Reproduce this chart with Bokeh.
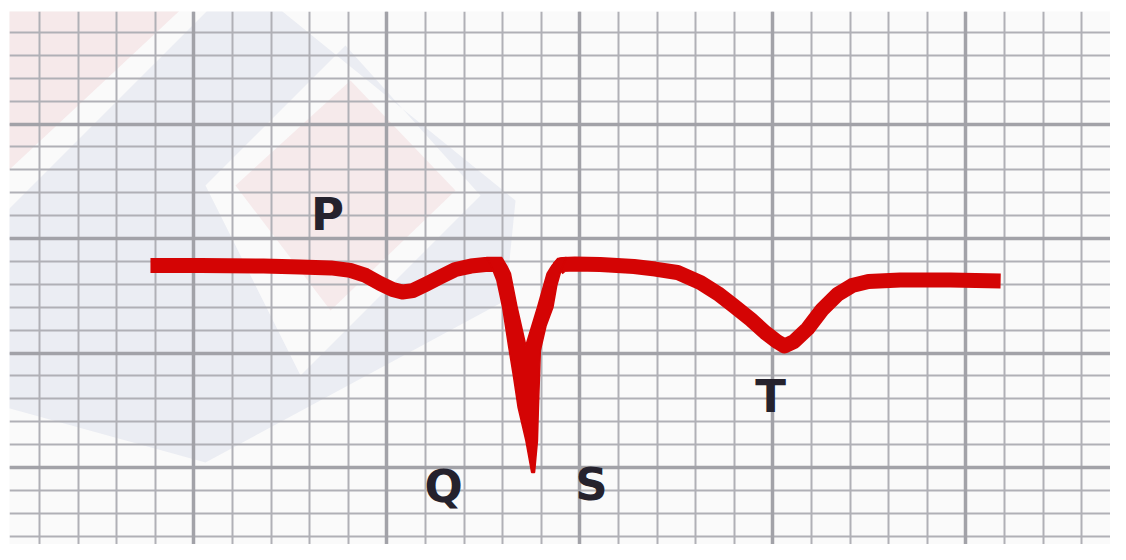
from bokeh.plotting import figure
from bokeh.models import Grid, FixedTicker, Range1d, ColumnDataSource
from bokeh.core.properties import value
from bokeh.embed import file_html
from bokeh.resources import INLINE

# ---- ECG trace (time in s, amplitude in mV) ----
pre_t = [0.155, 0.207, 0.272, 0.310, 0.342, 0.362, 0.378, 0.393, 0.406, 0.416,
         0.427, 0.440, 0.456, 0.471, 0.487, 0.502, 0.515]
pre_mv = [-0.117, -0.117, -0.120, -0.124, -0.128, -0.139, -0.161, -0.196, -0.222, -0.233,
          -0.227, -0.200, -0.166, -0.135, -0.120, -0.113, -0.113]

post_t = [0.577, 0.582, 0.595, 0.621, 0.656, 0.678, 0.701, 0.725, 0.743, 0.759,
          0.777, 0.792, 0.804, 0.812, 0.822, 0.836, 0.851, 0.867, 0.882, 0.899,
          0.932, 0.984, 1.036]
post_mv = [-0.131, -0.113, -0.111, -0.113, -0.122, -0.133, -0.148, -0.192, -0.240, -0.292,
           -0.353, -0.410, -0.449, -0.469, -0.449, -0.393, -0.310, -0.244, -0.205, -0.187,
           -0.181, -0.181, -0.185]

# QS complex outline (filled, tapering to a point)
qs_t = [0.503, 0.519, 0.524, 0.528, 0.535, 0.544, 0.556, 0.566, 0.571, 0.577,
        0.586, 0.581, 0.576, 0.572, 0.565, 0.559, 0.557, 0.556, 0.553, 0.550,
        0.544, 0.536, 0.531, 0.526, 0.520, 0.514, 0.508]
qs_mv = [-0.083, -0.083, -0.118, -0.152, -0.301, -0.467, -0.301, -0.152, -0.118, -0.087,
         -0.083, -0.131, -0.205, -0.301, -0.380, -0.489, -0.738, -0.882, -1.021, -1.021,
         -0.882, -0.738, -0.597, -0.467, -0.301, -0.183, -0.118]

# wave labels
label_text = ["P", "Q", "S", "T"]
label_t = [0.3385, 0.4587, 0.6120, 0.7975]
label_mv = [0.105, -1.082, -1.074, -0.689]

# ECG paper: small box 0.04 s x 0.1 mV, big box every 5 small boxes
minor_t = [round(0.04 * b, 4) for b in range(0, 31)]
major_t = [round(0.2 * b, 4) for b in range(0, 7)]
minor_mv = [round(0.9 - 0.1 * k, 4) for k in range(0, 24)]
major_mv = [0.5, 0.0, -0.5, -1.0]

# faint background logo watermark
wm_pink_tri_t = [-0.02, 0.2017, -0.02]
wm_pink_tri_mv = [1.06, 1.06, 0.1882]
wm_ring_outer_t = [0.2483, 0.5333, 0.5229, 0.2120, -0.0211, -0.0211]
wm_ring_outer_mv = [1.1402, 0.1664, -0.2703, -0.9777, -0.7070, 0.0048]
wm_ring_hole_t = [0.3571, 0.4970, 0.3105, 0.2120]
wm_ring_hole_mv = [0.8432, 0.1882, -0.5974, 0.2319]
wm_diamond_t = [0.3623, 0.4711, 0.3416, 0.2431]
wm_diamond_mv = [0.6904, 0.2100, -0.3140, 0.2319]

p = figure(width=1110, height=544,
           x_range=Range1d(0.008912, 1.149845), y_range=Range1d(-1.33581, 0.99170),
           x_axis_type=None, y_axis_type=None,
           toolbar_location=None, output_backend="svg",
           min_border_left=9, min_border_top=11, min_border_right=0, min_border_bottom=0)
p.outline_line_color = None
p.background_fill_color = "#fafafa"
p.border_fill_color = "white"
p.xgrid.visible = False
p.ygrid.visible = False

# watermark (below the grid)
p.patch(wm_pink_tri_t, wm_pink_tri_mv, fill_color="#f6e9ea", line_color=None, level="image")
p.multi_polygons(xs=[[[wm_ring_outer_t, wm_ring_hole_t]]], ys=[[[wm_ring_outer_mv, wm_ring_hole_mv]]],
                 fill_color="#ebedf3", line_color=None, level="image")
p.patch(wm_diamond_t, wm_diamond_mv, fill_color="#f6eaeb", line_color=None, level="image")

# grid
for dim, ticks, col, w in [(0, minor_t, "#b0b0b6", 2), (1, minor_mv, "#b0b0b6", 2),
                           (0, major_t, "#a2a2a8", 3.5), (1, major_mv, "#a2a2a8", 3.5)]:
    g = Grid(dimension=dim, ticker=FixedTicker(ticks=ticks),
             grid_line_color=col, grid_line_width=w)
    p.add_layout(g)

red = "#d40404"
p.line(pre_t, pre_mv, line_color=red, line_width=15, line_join="round", line_cap="butt")
p.line(post_t, post_mv, line_color=red, line_width=15, line_join="round", line_cap="butt")
p.patch(qs_t, qs_mv, fill_color=red, line_color=red, line_width=1.5)

src = ColumnDataSource(dict(x=label_t, y=label_mv, text=label_text))
p.text(x="x", y="y", text="text", source=src, text_font=value("DejaVu Sans"),
       text_font_style="bold", text_font_size="45px", text_color="#25222d",
       text_align="center", text_baseline="alphabetic")

open("out.html", "w").write(file_html(p, INLINE))
